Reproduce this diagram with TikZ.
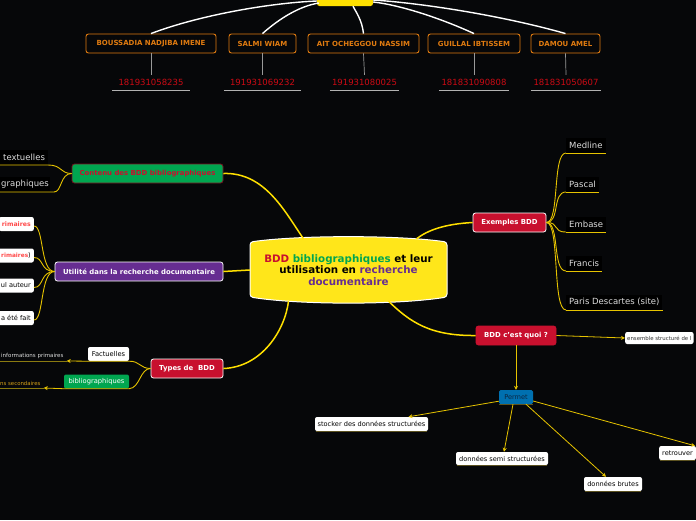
\documentclass[tikz,border=0pt]{standalone}
\usepackage{fontspec}
\setmainfont{DejaVu Sans}
\usetikzlibrary{arrows.meta}
\definecolor{bg}{HTML}{060709}
\definecolor{ylw}{HTML}{E6C300}
\definecolor{dylw}{HTML}{8A7A10}
\definecolor{org}{HTML}{E07B10}
\definecolor{numred}{HTML}{CC0A14}
\definecolor{crim}{HTML}{C8102E}
\definecolor{dcrim}{HTML}{7A1020}
\definecolor{grn}{HTML}{00A650}
\definecolor{purp}{HTML}{662D91}
\definecolor{blu}{HTML}{0070B0}
\definecolor{navy}{HTML}{0B2540}
\definecolor{cyel}{HTML}{FFE61A}
\definecolor{gyel}{HTML}{FFE000}
\definecolor{olive}{HTML}{5C5220}
\definecolor{lred}{HTML}{FF4A4A}
\definecolor{lgray}{HTML}{DDDDDD}
\definecolor{gold}{HTML}{D4A017}
\newcommand\myfs[2]{\fontsize{#1}{#2}\selectfont}
\begin{document}
\begin{tikzpicture}[x=1pt,y=-1pt,
  namebox/.style={draw=org,line width=0.9pt,rounded corners=2.5pt,fill=bg,text=org,font=\myfs{7}{8}\bfseries,minimum height=19pt,inner sep=0pt},
  numnode/.style={text=numred,font=\myfs{8.5}{10},minimum height=15pt,inner sep=0pt},
  gline/.style={draw=gray!80,line width=0.7pt},
  uline/.style={draw=gray!60,line width=0.9pt},
  wline/.style={draw=white,line width=1.4pt},
  topic/.style={rounded corners=2.5pt,minimum height=19pt,inner sep=0pt,font=\myfs{6.9}{8}\bfseries,line width=0.8pt},
  wbox/.style={fill=white,text=black,rounded corners=2pt,minimum height=14pt,inner sep=3pt,font=\myfs{6.6}{8}},
  dtext/.style={fill=black,text=lgray,font=\myfs{8.5}{10},inner sep=3pt,minimum height=15pt},
  yl/.style={draw=ylw,line width=0.9pt},
  mainyl/.style={draw=gyel,line width=1.5pt},
  ya/.style={draw=ylw,line width=0.8pt,-{Stealth[length=4pt,width=4pt]}},
  shl/.style={draw=olive,line width=1.2pt},
  dul/.style={draw=dylw,line width=0.9pt}
]
\useasboundingbox (0,0) rectangle (696,520);
\fill[bg] (0,0) rectangle (696,520);

% top group node
\node[fill=gyel,rounded corners=2.5pt,minimum width=56pt,minimum height=18pt,inner sep=0pt,font=\myfs{7}{8}\bfseries,text=black] (grp) at (345,-3) {Groupe 04};

% name boxes
\node[namebox,minimum width=130pt] (nb1) at (151,43.5) {BOUSSADIA NADJIBA IMENE};
\node[namebox,minimum width=67pt] (nb2) at (262.5,43.5) {SALMI WIAM};
\node[namebox,minimum width=111pt] (nb3) at (363.5,43.5) {AIT OCHEGGOU NASSIM};
\node[namebox,minimum width=92pt] (nb4) at (474,43.5) {GUILLAL IBTISSEM};
\node[namebox,minimum width=69pt] (nb5) at (565.5,43.5) {DAMOU AMEL};

\draw[wline] (nb1.north) .. controls (200,15) and (270,3) .. ([yshift=-4pt]grp.west);
\draw[wline] (nb2.north) .. controls (280,18) and (300,6) .. ([yshift=-6pt,xshift=2pt]grp.west);
\draw[wline] (nb3.north) .. controls (362,20) and (356,12) .. ([xshift=8pt]grp.south);
\draw[wline] (nb4.north) .. controls (440,18) and (400,5) .. ([yshift=-5pt]grp.east);
\draw[wline] (nb5.north) .. controls (500,15) and (420,3) .. ([yshift=-3pt]grp.east);

% numbers
\node[numnode,minimum width=77pt] (n1) at (151,82.5) {181931058235};
\node[numnode,minimum width=77pt] (n2) at (262.5,82.5) {191931069232};
\node[numnode,minimum width=69pt] (n3) at (364.5,82.5) {191931080025};
\node[numnode,minimum width=70pt] (n4) at (474,82.5) {181831090808};
\node[numnode,minimum width=70pt] (n5) at (566,82.5) {181831050607};
\foreach \i in {1,...,5}{
  \draw[gline] (nb\i.south) -- (n\i.north);
  \draw[uline] (n\i.south west) -- (n\i.south east);
}

% central node
\fill[cyel,draw=white,line width=1pt,rounded corners=3pt]
  (250,242) .. controls (300,235) and (397,235) .. (447,242)
  -- (447,297) .. controls (397,305) and (300,305) .. (250,297) -- cycle;
\node[minimum width=197pt,minimum height=62pt,inner sep=0pt,align=center,font=\myfs{10.3}{11.5}\bfseries,text=black] (c) at (348.5,270)
  {{\color{crim}BDD} {\color{grn}bibliographiques} et leur\\utilisation en {\color{purp}recherche}\\{\color{purp}documentaire}};

% left topics
\node[topic,fill=grn,draw=dcrim,text=crim,minimum width=151pt] (cont) at (147.5,173.5) {Contenu des BDD bibliographiques};
\node[topic,fill=purp,draw=white,text=white,minimum width=168pt] (util) at (139,271.5) {Utilité dans la recherche documentaire};
\node[topic,fill=crim,draw=white,text=white,minimum width=72pt] (types) at (187,368.5) {Types de~ BDD};

% right topics
\node[topic,fill=crim,draw=white,text=white,minimum width=73pt] (ex) at (509.5,222.5) {Exemples BDD};
\node[topic,fill=crim,draw=crim,text=white,minimum width=80pt] (q) at (516,335.5) {BDD c'est quoi ?};

% main connectors
\draw[mainyl] (cont.east) .. controls (265,172) and (285,212) .. ([xshift=-45pt]c.north);
\draw[mainyl] (util.east) -- (c.west);
\draw[mainyl] (types.east) .. controls (262,367) and (285,330) .. ([xshift=-60pt]c.south);
\draw[mainyl] (ex.west) .. controls (445,224) and (428,230) .. ([xshift=68pt]c.north);
\draw[mainyl] (q.west) .. controls (430,336) and (410,322) .. ([xshift=40pt]c.south);

% contenu children
\node[dtext,anchor=south west] (t1) at (0,165) {textuelles};
\node[dtext,anchor=south west,inner xsep=1pt] (t2) at (0,192) {graphiques};
\draw[yl] (t1.south west) -- (t1.south east) .. controls (62,165) and (60,173.5) .. (cont.west);
\draw[yl] (t2.south west) -- ([xshift=4pt]t2.south east) .. controls (62,192) and (60,173.5) .. (cont.west);

% utilite children
\node[wbox,anchor=east,font=\myfs{6.2}{8}\bfseries,text=lred] (u1) at (34,224) {rimaires};
\node[wbox,anchor=east] (u2) at (34,255.5) {{\color{lred}\myfs{5.8}{8}\bfseries rimaires})};
\node[wbox,anchor=east] (u3) at (34,285.5) {ul auteur};
\node[wbox,anchor=east] (u4) at (34,318) {a été fait};
\foreach \i in {1,...,4}{
  \draw[yl] ([yshift=-2pt]u\i.east) .. controls ([xshift=10pt,yshift=-2pt]u\i.east) and (40,271.5) .. (util.west);
}

% types children
\node[wbox,minimum width=41pt,inner sep=0pt,font=\myfs{6.7}{8}] (fact) at (108.5,354) {Factuelles};
\node[wbox,fill=grn,text=white,minimum width=65pt,inner sep=0pt,font=\myfs{6.7}{8}] (bib) at (96.5,381.5) {bibliographiques};
\node[anchor=south west,inner xsep=1pt,inner ysep=2pt,font=\myfs{5.5}{6},text=lgray] (ip) at (0,361) {informations primaires};
\node[anchor=south west,inner xsep=0pt,inner ysep=2pt,font=\myfs{5.4}{6},text=gold] (ns) at (0,388) {ns secondaires};
\draw[yl] (types.west) .. controls (140,368.5) and (140,361) .. (fact.south east) -- (fact.south west);
\draw[yl] (types.west) .. controls (140,368.5) and (140,388) .. (bib.south east) -- (bib.south west);
\draw[ya] (fact.south west) -- ([xshift=2pt]ip.south east);
\draw[ya] (bib.south west) -- ([xshift=3pt]ns.south east);
\draw[dul] (ip.south west) -- ([xshift=2pt]ip.south east);
\draw[dul] (ns.south west) -- ([xshift=3pt]ns.south east);

% exemples children
\node[dtext,anchor=south west] (r1) at (566,153) {Medline};
\node[dtext,anchor=south west] (r2) at (566,192) {Pascal};
\node[dtext,anchor=south west] (r3) at (566,232) {Embase};
\node[dtext,anchor=south west] (r4) at (566,271) {Francis};
\node[dtext,anchor=south west] (r5) at (566,310) {Paris Descartes (site)};
\foreach \i in {1,...,5}{
  \draw[yl] (r\i.south west) -- (r\i.south east);
  \draw[yl] (ex.east) .. controls (560,222.5) and ([xshift=-14pt]r\i.south west) .. (r\i.south west);
}

% BDD c'est quoi children
\node[wbox,anchor=west,inner sep=2pt,minimum height=12pt,font=\myfs{5.4}{6},text=black!80] (ens) at (625,338) {ensemble structuré de l};
\draw[ya] (q.east) -- (ens.west);
\node[fill=blu,text=navy,minimum width=34pt,minimum height=14pt,inner sep=0pt,rounded corners=1.5pt,font=\myfs{6.6}{8}] (p) at (516,397) {Permet};
\draw[shl] (p.south west) -- (p.south east);
\draw[ya] (q.south) -- (p.north);

\node[wbox,minimum width=113pt,inner sep=0pt] (s1) at (371.5,424) {stocker des données structurées};
\node[wbox,minimum width=92pt,minimum height=13pt,inner sep=0pt] (s2) at (502,458.5) {données semi structurées};
\node[wbox,minimum width=58pt,inner sep=0pt] (s3) at (613,484) {données brutes};
\node[wbox,anchor=west] (s4) at (659,453) {retrouver};
\foreach \i in {1,...,4}{ \draw[shl] ([xshift=1pt]s\i.south west) -- ([xshift=-1pt]s\i.south east); }
\draw[ya] ([yshift=3pt]p.south west) -- ([xshift=37pt]s1.north);
\draw[ya] ([xshift=-3pt]p.south) -- ([xshift=2pt]s2.north);
\draw[ya] ([xshift=10pt]p.south) -- ([xshift=-7pt]s3.north);
\draw[ya] ([yshift=-4pt]p.east) -- ([xshift=36pt]s4.north west);
\end{tikzpicture}
\end{document}
